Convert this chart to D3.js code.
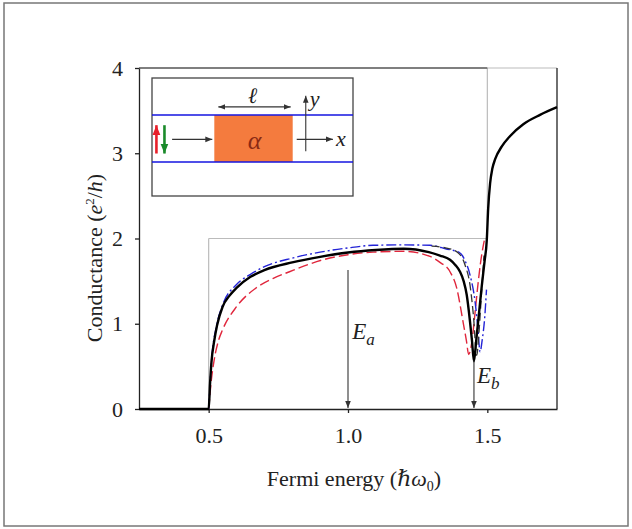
<!DOCTYPE html>
<html>
<head>
<meta charset="utf-8">
<script src="https://cdn.jsdelivr.net/npm/d3@7"></script>
<style>
  body { margin: 0; background: #fff; }
  svg text { font-family: "Liberation Serif", "Times New Roman", Times, "DejaVu Serif", serif !important; }
</style>
</head>
<body>
<div id="chart"></div>
<script>
// conductance curves, [Fermi energy, G]
const solidCurve = [[0.25,0],[0.5,0],[0.505,0.3],[0.51,0.55],[0.52,0.8],[0.53,0.98],[0.55,1.2],[0.575,1.33],[0.6,1.42],[0.65,1.55],[0.7,1.63],[0.8,1.72],[0.9,1.785],[1.0,1.835],[1.1,1.865],[1.2,1.88],[1.29,1.84],[1.33,1.8],[1.366,1.75],[1.385,1.69],[1.402,1.61],[1.415,1.5],[1.426,1.34],[1.438,1.02],[1.445,0.8],[1.452,0.56],[1.46,0.8],[1.47,1.12],[1.48,1.44],[1.49,1.73],[1.498,1.98],[1.503,2.35],[1.51,2.65],[1.518,2.82],[1.528,2.93],[1.552,3.08],[1.581,3.2],[1.629,3.34],[1.689,3.45],[1.75,3.54]];
const redCurve = [[0.5,0],[0.51,0.35],[0.52,0.58],[0.535,0.8],[0.55,0.93],[0.6,1.2],[0.67,1.42],[0.73,1.53],[0.79,1.61],[0.91,1.75],[1.0,1.81],[1.09,1.84],[1.2,1.85],[1.294,1.79],[1.33,1.72],[1.366,1.61],[1.39,1.42],[1.413,1.02],[1.425,0.8],[1.433,0.64],[1.445,0.8],[1.455,1.1],[1.465,1.42],[1.475,1.7],[1.484,1.89],[1.492,2.02]];
const blueCurve = [[0.5,0],[0.51,0.55],[0.53,1.0],[0.55,1.22],[0.6,1.46],[0.65,1.58],[0.7,1.67],[0.8,1.77],[0.9,1.84],[1.0,1.89],[1.09,1.92],[1.19,1.925],[1.294,1.92],[1.35,1.88],[1.402,1.83],[1.42,1.74],[1.438,1.57],[1.456,1.26],[1.466,0.95],[1.474,0.67],[1.482,0.82],[1.49,1.05],[1.497,1.4]];
const dashCurve = [[1.3,1.91],[1.35,1.89],[1.39,1.845],[1.42,1.69],[1.438,1.45],[1.45,1.1],[1.462,0.63],[1.47,0.9],[1.478,1.3],[1.488,1.8]];

const xTicks = [0.5, 1.0, 1.5];
const yTicks = [0, 1, 2, 3, 4];

// marked energies
const markers = [
  { e: 1.0, top: 1.63, sub: "a", labelE: 1.015, labelG: 0.82 },
  { e: 1.452, top: 0.57, sub: "b", labelE: 1.463, labelG: 0.3 }
];

const width = 632, height = 529;

const svg = d3.select("#chart").append("svg")
  .attr("width", width)
  .attr("height", height);

// outer figure border
svg.append("rect")
  .attr("x", 4).attr("y", 3)
  .attr("width", width - 8).attr("height", height - 6)
  .attr("fill", "none")
  .attr("stroke", "#777")
  .attr("stroke-width", 1.5);

const x = d3.scaleLinear().domain([0.25, 1.75]).range([139, 557]);
const y = d3.scaleLinear().domain([0, 4]).range([409, 68]);

// light guide box
const guide = svg.append("g").attr("stroke", "#bbb").attr("stroke-width", 1.2).attr("fill", "none");
guide.append("line").attr("x1", x(0.5)).attr("x2", x(1.5)).attr("y1", y(2)).attr("y2", y(2));
guide.append("line").attr("x1", x(0.5)).attr("x2", x(0.5)).attr("y1", y(0)).attr("y2", y(2));
guide.append("line").attr("x1", x(1.5)).attr("x2", x(1.5)).attr("y1", y(2)).attr("y2", y(4));
guide.append("line").attr("x1", x(1.5)).attr("x2", x(1.75)).attr("y1", y(4)).attr("y2", y(4));

// frame
svg.append("line").attr("x1", x(0.25)).attr("x2", x(1.5)).attr("y1", y(4)).attr("y2", y(4))
  .attr("stroke", "#555").attr("stroke-width", 1.3);
svg.append("line").attr("x1", x(1.75)).attr("x2", x(1.75)).attr("y1", y(4)).attr("y2", y(0))
  .attr("stroke", "#222").attr("stroke-width", 1.3);

// axes
const xAxis = svg.append("g")
  .attr("transform", `translate(0,${y(0)})`)
  .call(d3.axisBottom(x).tickValues(xTicks).tickFormat(d3.format(".1f")).tickSize(4).tickSizeOuter(0).tickPadding(14));
const yAxis = svg.append("g")
  .attr("transform", `translate(${x(0.25)},0)`)
  .call(d3.axisLeft(y).tickValues(yTicks).tickFormat(d3.format("d")).tickSize(4).tickSizeOuter(0).tickPadding(12));
[xAxis, yAxis].forEach(a => {
  a.selectAll("path, line").attr("stroke", "#222").attr("stroke-width", 1.3);
  a.selectAll("text").attr("font-size", 22).attr("fill", "#222");
});

// curves
const line = d3.line().x(d => x(d[0])).y(d => y(d[1])).curve(d3.curveMonotoneX);

svg.append("path").datum(redCurve).attr("d", line)
  .attr("fill", "none").attr("stroke", "#e0263c").attr("stroke-width", 1.4).attr("stroke-dasharray", "10,4");
svg.append("path").datum(blueCurve).attr("d", line)
  .attr("fill", "none").attr("stroke", "#2323d6").attr("stroke-width", 1.4).attr("stroke-dasharray", "10,3,2,3");
svg.append("path").datum(dashCurve).attr("d", line)
  .attr("fill", "none").attr("stroke", "#333").attr("stroke-width", 1.3).attr("stroke-dasharray", "8,4");
svg.append("path").datum(solidCurve).attr("d", line)
  .attr("fill", "none").attr("stroke", "#000").attr("stroke-width", 2.4);

// arrow marker
const defs = svg.append("defs");
function marker(id, color, size) {
  defs.append("marker")
    .attr("id", id)
    .attr("viewBox", "0 -5 10 10")
    .attr("refX", 10).attr("refY", 0)
    .attr("markerWidth", size).attr("markerHeight", size)
    .attr("markerUnits", "userSpaceOnUse")
    .attr("orient", "auto-start-reverse")
    .append("path").attr("d", "M0,-4L10,0L0,4Z").attr("fill", color);
}
marker("arrow", "#333", 7);
marker("arrowRed", "#e8202a", 10);
marker("arrowGreen", "#1a8a2a", 10);

// energy markers
markers.forEach(m => {
  svg.append("line")
    .attr("x1", x(m.e)).attr("x2", x(m.e))
    .attr("y1", y(m.top)).attr("y2", y(0) - 1)
    .attr("stroke", "#333").attr("stroke-width", 1.1)
    .attr("marker-end", "url(#arrow)");
  const t = svg.append("text")
    .attr("x", x(m.labelE)).attr("y", y(m.labelG))
    .attr("font-size", 23).attr("fill", "#222").attr("font-style", "italic");
  t.append("tspan").text("E");
  t.append("tspan").attr("dy", 6).attr("font-size", 17).text(m.sub);
});

// axis titles
const xt = svg.append("text")
  .attr("x", 354).attr("y", 486)
  .attr("text-anchor", "middle").attr("font-size", 22).attr("fill", "#222");
xt.append("tspan").text("Fermi energy (");
xt.append("tspan").attr("font-style", "italic").text("ℏω");
xt.append("tspan").attr("dy", 5).attr("font-size", 14).text("0");
xt.append("tspan").attr("dy", -5).text(")");

const yt = svg.append("text")
  .attr("transform", "translate(102,258) rotate(-90)")
  .attr("text-anchor", "middle").attr("font-size", 22).attr("fill", "#222");
yt.append("tspan").text("Conductance (");
yt.append("tspan").attr("font-style", "italic").text("e");
yt.append("tspan").attr("dy", -8).attr("font-size", 13).text("2");
yt.append("tspan").attr("dy", 8).text("/");
yt.append("tspan").attr("font-style", "italic").text("h");
yt.append("tspan").text(")");

// inset schematic, in its own unit coordinates
const ix = d3.scaleLinear().domain([0, 1]).range([152, 353]);
const iy = d3.scaleLinear().domain([0, 1]).range([78, 196]);
const inset = svg.append("g");
inset.append("rect")
  .attr("x", ix(0)).attr("y", iy(0))
  .attr("width", ix(1) - ix(0)).attr("height", iy(1) - iy(0))
  .attr("fill", "#fff").attr("stroke", "#444").attr("stroke-width", 1.3);
inset.append("rect")
  .attr("x", ix(0.31)).attr("y", iy(0.314))
  .attr("width", ix(0.70) - ix(0.31)).attr("height", iy(0.712) - iy(0.314))
  .attr("fill", "#f47b3e");
[0.314, 0.712].forEach(v => {
  inset.append("line").attr("x1", ix(0)).attr("x2", ix(1)).attr("y1", iy(v)).attr("y2", iy(v))
    .attr("stroke", "#1515e0").attr("stroke-width", 1.6);
});
inset.append("text").attr("x", ix(0.51)).attr("y", iy(0.6))
  .attr("text-anchor", "middle").attr("font-size", 26).attr("font-style", "italic")
  .attr("fill", "#8a2a14").text("α");
// length arrow
inset.append("line").attr("x1", ix(0.33)).attr("x2", ix(0.69)).attr("y1", iy(0.245)).attr("y2", iy(0.245))
  .attr("stroke", "#333").attr("stroke-width", 1.1)
  .attr("marker-start", "url(#arrow)").attr("marker-end", "url(#arrow)");
inset.append("text").attr("x", ix(0.5)).attr("y", iy(0.215))
  .attr("text-anchor", "middle").attr("font-size", 22).attr("font-style", "italic").attr("fill", "#222").text("ℓ");
// incoming arrow
inset.append("line").attr("x1", ix(0.1)).attr("x2", ix(0.3)).attr("y1", iy(0.52)).attr("y2", iy(0.52))
  .attr("stroke", "#333").attr("stroke-width", 1.1).attr("marker-end", "url(#arrow)");
// spins
inset.append("line").attr("x1", ix(0.022)).attr("x2", ix(0.022)).attr("y1", iy(0.64)).attr("y2", iy(0.4))
  .attr("stroke", "#e8202a").attr("stroke-width", 2.6).attr("marker-end", "url(#arrowRed)");
inset.append("line").attr("x1", ix(0.062)).attr("x2", ix(0.062)).attr("y1", iy(0.4)).attr("y2", iy(0.64))
  .attr("stroke", "#1a8a2a").attr("stroke-width", 2.6).attr("marker-end", "url(#arrowGreen)");
// coordinate axes
inset.append("line").attr("x1", ix(0.72)).attr("x2", ix(0.9)).attr("y1", iy(0.52)).attr("y2", iy(0.52))
  .attr("stroke", "#333").attr("stroke-width", 1.1).attr("marker-end", "url(#arrow)");
inset.append("line").attr("x1", ix(0.765)).attr("x2", ix(0.765)).attr("y1", iy(0.62)).attr("y2", iy(0.15))
  .attr("stroke", "#333").attr("stroke-width", 1.1).attr("marker-end", "url(#arrow)");
inset.append("text").attr("x", ix(0.915)).attr("y", iy(0.58))
  .attr("font-size", 22).attr("font-style", "italic").attr("fill", "#222").text("x");
inset.append("text").attr("x", ix(0.785)).attr("y", iy(0.24))
  .attr("font-size", 22).attr("font-style", "italic").attr("fill", "#222").text("y");
</script>
</body>
</html>
